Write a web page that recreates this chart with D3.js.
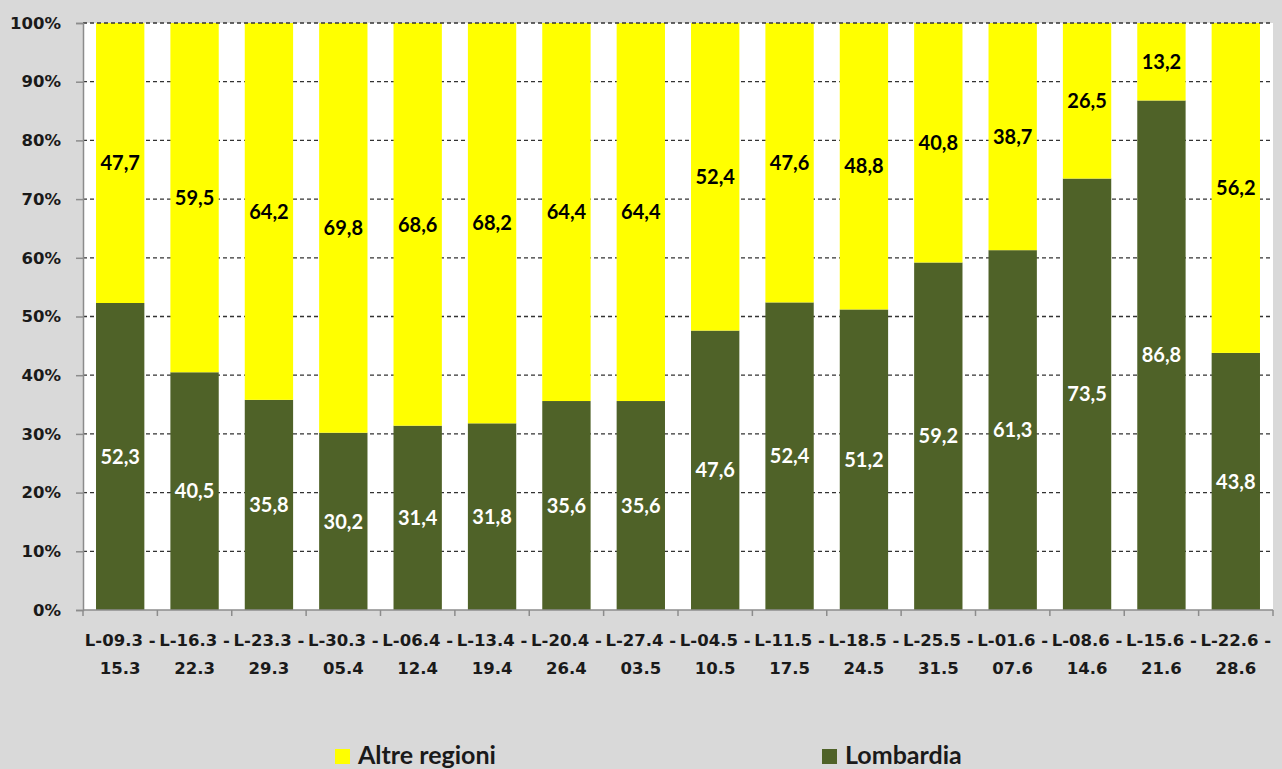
<!DOCTYPE html>
<html><head><meta charset="utf-8">
<script src="https://cdn.jsdelivr.net/npm/d3@7"></script>
<style>html,body{margin:0;padding:0;background:#d9d9d9;}svg{display:block;}</style>
</head><body>
<svg id="c" width="1282" height="769"></svg>
<script>
const weekStart = ["09.3","16.3","23.3","30.3","06.4","13.4","20.4","27.4","04.5","11.5","18.5","25.5","01.6","08.6","15.6","22.6"];
const weekEnd   = ["15.3","22.3","29.3","05.4","12.4","19.4","26.4","03.5","10.5","17.5","24.5","31.5","07.6","14.6","21.6","28.6"];
const categories = weekStart.map((s,i)=>"L-"+s+" - "+weekEnd[i]);
const lombardia = [52.3,40.5,35.8,30.2,31.4,31.8,35.6,35.6,47.6,52.4,51.2,59.2,61.3,73.5,86.8,43.8];
const altre     = [47.7,59.5,64.2,69.8,68.6,68.2,64.4,64.4,52.4,47.6,48.8,40.8,38.7,26.5,13.2,56.2];
const yTicks = [0,10,20,30,40,50,60,70,80,90,100];
const seriesNames = ["Altre regioni","Lombardia"];

const svg = d3.select("#c");
const W=1282,H=769;
const m={l:83,r:1273,t:23,b:610};
const font="Lato, 'Open Sans', sans-serif";
const axisFont="'DejaVu Sans', Verdana, sans-serif";
const colors={"Lombardia":"#4f6228","Altre regioni":"#ffff00"};

svg.append("rect").attr("width",W).attr("height",H).attr("fill","#d9d9d9");
svg.append("rect").attr("x",m.l).attr("y",m.t).attr("width",m.r-m.l).attr("height",m.b-m.t).attr("fill","#ffffff");

const x=d3.scaleBand().domain(categories).range([m.l,m.r]).paddingInner(0.35).paddingOuter(0.175);
const y=d3.scaleLinear().domain([0,100]).range([m.b,m.t]);

// gridlines
svg.append("g").selectAll("line").data(yTicks.filter(t=>t>0&&t<100)).join("line")
  .attr("x1",m.l).attr("x2",m.r).attr("y1",d=>y(d)).attr("y2",d=>y(d))
  .attr("stroke","#333333").attr("stroke-width",1.3).attr("stroke-dasharray","4,3");

const rows=categories.map((c,i)=>({cat:c,"Lombardia":lombardia[i],"Altre regioni":altre[i]}));
const stack=d3.stack().keys(["Lombardia","Altre regioni"])(rows);

const g=svg.append("g");
stack.forEach(s=>{
  g.append("g").selectAll("rect").data(s).join("rect")
    .attr("x",d=>x(d.data.cat)).attr("width",x.bandwidth())
    .attr("y",d=>y(d[1])).attr("height",d=>y(d[0])-y(d[1]))
    .attr("fill",colors[s.key]);
  g.append("g").selectAll("text").data(s).join("text")
    .attr("x",d=>x(d.data.cat)+x.bandwidth()/2)
    .attr("y",d=>y((d[0]+d[1])/2))
    .attr("dy","0.36em").attr("text-anchor","middle")
    .attr("font-family",font).attr("font-weight","bold").attr("font-size",20)
    .attr("fill",s.key==="Lombardia"?"#ffffff":"#000000")
    .text(d=>d3.format(".1f")(d.data[s.key]).replace(".",","));
});

// top dashed border
svg.append("line").attr("x1",m.l).attr("x2",m.r).attr("y1",y(100)).attr("y2",y(100))
  .attr("stroke","#333333").attr("stroke-width",1.3).attr("stroke-dasharray","4,3");

// y axis
const ya=svg.append("g").attr("transform",`translate(${m.l},0)`)
  .call(d3.axisLeft(y).tickValues(yTicks).tickFormat(d=>d+"%").tickSize(7).tickPadding(15));
ya.select(".domain").attr("stroke","#8c8c8c").attr("stroke-width",1.5);
ya.selectAll(".tick line").attr("stroke","#8c8c8c").attr("stroke-width",1.5);
ya.selectAll("text").attr("font-family",axisFont).attr("font-weight","bold").attr("font-size",16.5).attr("fill","#1a1a1a");

// x axis
const xa=svg.append("g").attr("transform",`translate(0,${m.b})`);
xa.append("line").attr("x1",m.l).attr("x2",m.r).attr("stroke","#8c8c8c").attr("stroke-width",1.5);
const bounds=categories.map(c=>x(c)-x.step()*x.paddingInner()/2).concat([m.r]);
bounds[0]=m.l;
xa.selectAll("line.tk").data(bounds).join("line").attr("class","tk")
  .attr("x1",d=>d).attr("x2",d=>d).attr("y1",0).attr("y2",6)
  .attr("stroke","#8c8c8c").attr("stroke-width",1.5);
const xl=xa.selectAll("text").data(categories).join("text")
  .attr("text-anchor","middle").attr("font-family",axisFont).attr("font-weight","bold").attr("font-size",16.5).attr("fill","#1a1a1a");
xl.append("tspan").attr("x",d=>x(d)+x.bandwidth()/2).attr("y",36).text((d,i)=>"L-"+weekStart[i]+" -");
xl.append("tspan").attr("x",d=>x(d)+x.bandwidth()/2).attr("y",64).text((d,i)=>weekEnd[i]);

// legend
const legX=[335,822];
seriesNames.forEach((n,i)=>{
  svg.append("rect").attr("x",legX[i]).attr("y",749).attr("width",15).attr("height",15).attr("fill",colors[n]);
  svg.append("text").attr("x",legX[i]+23).attr("y",764).attr("font-family",font).attr("font-weight","bold")
    .attr("font-size",25).attr("fill","#1a1a1a").text(n);
});
</script>
</body></html>
